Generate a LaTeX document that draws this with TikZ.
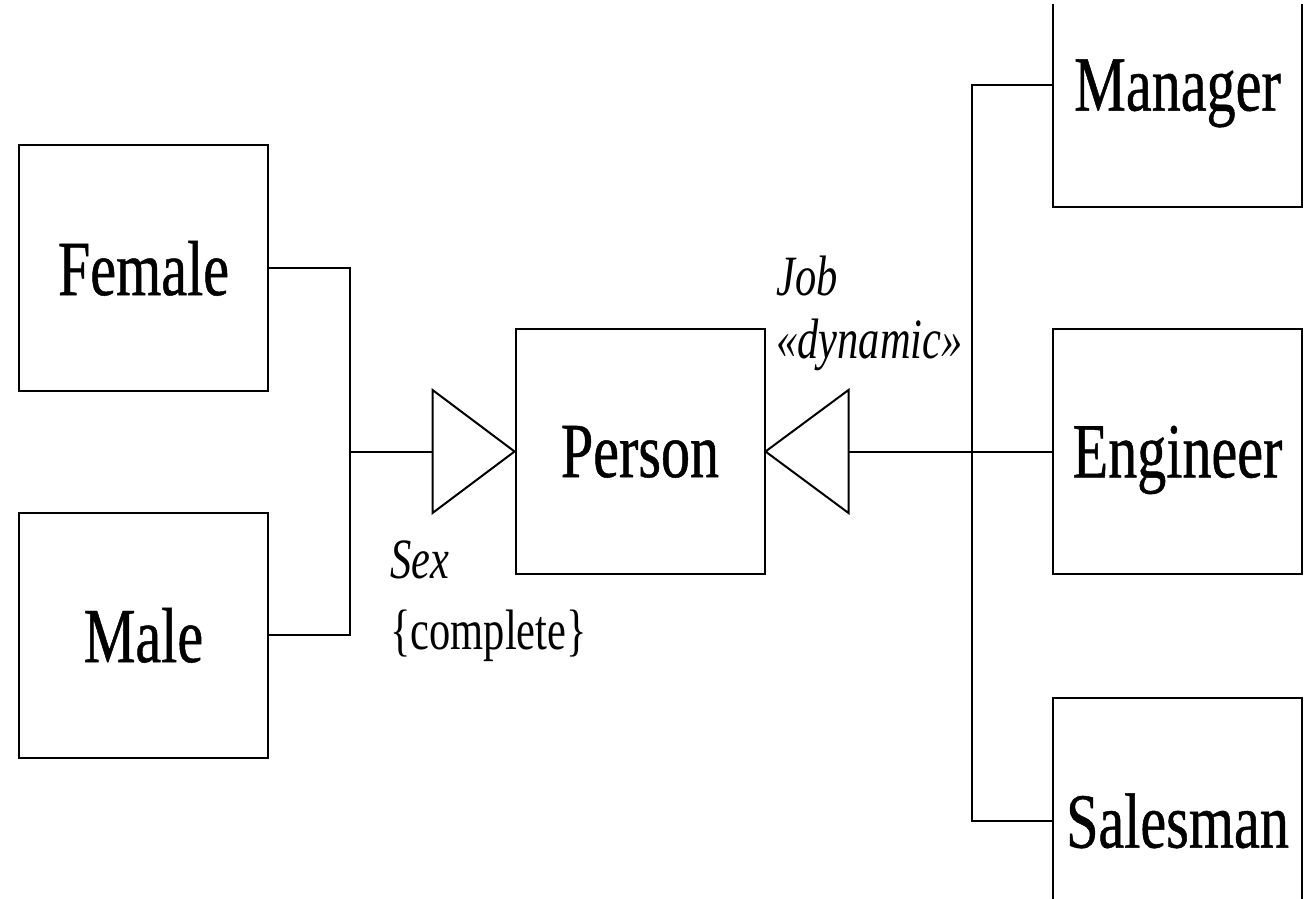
\documentclass[tikz,border=0pt]{standalone}
\usepackage{fontspec}
\setmainfont[FakeStretch=0.745]{Liberation Serif}
\newfontfamily\boxfont[FakeStretch=0.745,FakeBold=0.6]{Liberation Serif}
\begin{document}
\begin{tikzpicture}[x=0.5pt,y=-0.5pt,
  cls/.style={draw,line width=1pt,minimum width=124.5pt,minimum height=122.5pt,inner sep=0pt,text depth=0pt,font=\boxfont\fontsize{39}{45}\selectfont},
  lbl/.style={anchor=west,inner sep=0pt,font=\fontsize{28.5}{32}\selectfont},
  ln/.style={line width=1pt}]
\useasboundingbox (0,0) rectangle (1309,898);
\clip (0,5) rectangle (1309,898);
\node[cls] (Female) at (143.5,268) {Female};
\node[cls] (Male) at (143.5,635) {Male};
\node[cls] (Person) at (640,451.5) {Person};
\node[cls] (Manager) at (1177.5,85) {Manager};
\node[cls] (Engineer) at (1177.5,451.5) {Engineer};
\node[cls] (Salesman) at (1177.5,820.5) {Salesman};
% Sex generalization
\draw[ln,line join=miter] (Person.west) -- ++(-82,61.5) -- ++(0,-123) -- cycle;
\coordinate (sexbase) at ([xshift=-41pt]Person.west);
\coordinate (sexjoin) at (350,451.5);
\draw[ln] (Female.east) -| (sexjoin) |- (Male.east);
\draw[ln] (sexjoin) -- (sexbase);
% Job generalization
\draw[ln,line join=miter] (Person.east) -- ++(83,61.5) -- ++(0,-123) -- cycle;
\coordinate (jobbase) at ([xshift=41.5pt]Person.east);
\coordinate (jobbus) at (972,451.5);
\draw[ln] (Manager.west) -| (jobbus) |- (Salesman.west);
\draw[ln] (Engineer.west) -- (jobbase);
% labels
\node[lbl] (sexlbl) at (390,560) {\itshape Sex};
\node[lbl] (completelbl) at (390,636) {\{complete\}};
\node[lbl] (joblbl) at (776,276) {\itshape Job};
\node[lbl] (dynlbl) at (776,345) {\itshape «dynamic»};
\end{tikzpicture}
\end{document}
